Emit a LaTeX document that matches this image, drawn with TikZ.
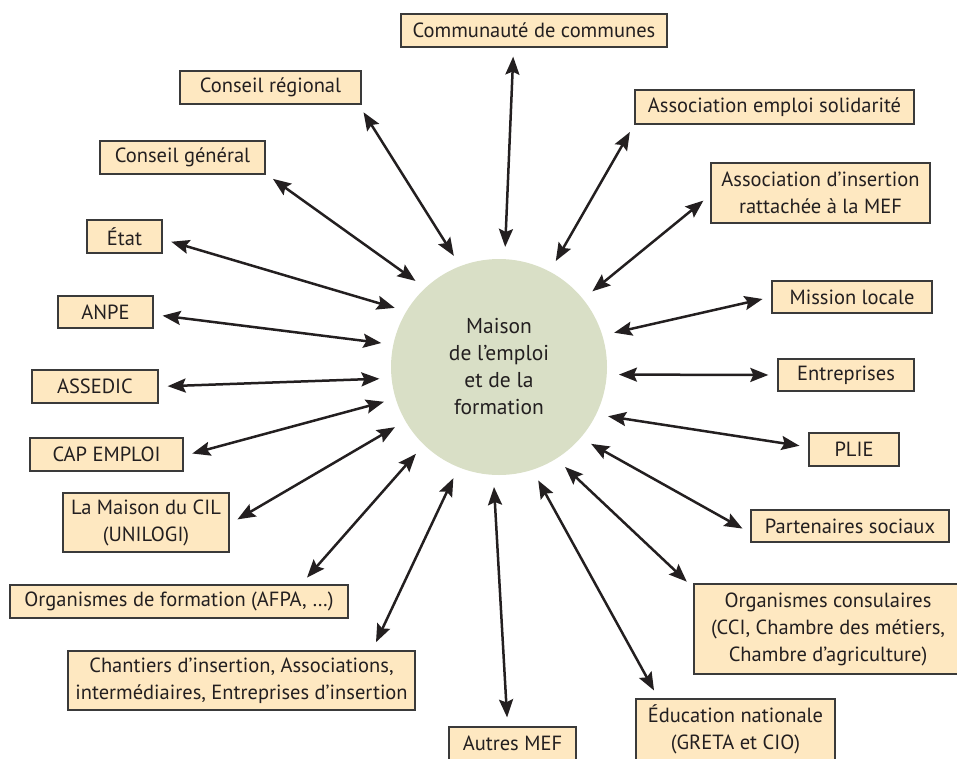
\documentclass[tikz,border=0pt]{standalone}
\usepackage{fontspec}
\setmainfont{PT Sans}
\usetikzlibrary{arrows.meta}
\definecolor{ink}{HTML}{231F20}
\definecolor{peach}{HTML}{FEE8C1}
\definecolor{sage}{HTML}{D9DFC6}
\definecolor{frame}{HTML}{3A3A3A}

\begin{document}
\begin{tikzpicture}[x=1pt,y=-1pt,
  box/.style={draw=frame,line width=1.3pt,fill=peach,text=ink,align=center,inner sep=2pt,font=\fontsize{20.5}{27}\selectfont},
  hub/.style={circle,fill=sage,text=ink,align=center,minimum size=216pt,inner sep=0pt,font=\fontsize{21.5}{27}\selectfont},
  link/.style={<->,>={Stealth[length=18pt,width=14pt,inset=3pt]},line width=2.5pt,draw=ink,shorten <=9pt,shorten >=12pt}]
\useasboundingbox (0,0) rectangle (957,758);
\node[hub] (MEF) at (499,367){Maison\\de l’emploi\\et de la\\formation};
\node[box,minimum width=266pt,minimum height=33pt] (CC) at (534,30.5){Communauté de communes};
\node[box,minimum width=279pt,minimum height=34pt] (AES) at (774.5,107){Association emploi solidarité};
\node[box,minimum width=219pt,minimum height=60pt] (AIR) at (820.5,193){Association d’insertion\\rattachée à la MEF};
\node[box,minimum width=160pt,minimum height=32pt] (ML) at (852,297){Mission locale};
\node[box,minimum width=136pt,minimum height=32pt] (ENT) at (846,375){Entreprises};
\node[box,minimum width=90pt,minimum height=33pt] (PLIE) at (854,449.5){PLIE};
\node[box,minimum width=198pt,minimum height=32pt] (PS) at (850,526){Partenaires sociaux};
\node[box,minimum width=268pt,minimum height=90pt] (OC) at (828,629){Organismes consulaires\\(CCI, Chambre des métiers,\\Chambre d’agriculture)};
\node[box,minimum width=199pt,minimum height=61pt] (EN) at (735.5,729.5){Éducation nationale\\(GRETA et CIO)};
\node[box,minimum width=127pt,minimum height=33pt] (AMEF) at (512.5,743.5){Autres MEF};
\node[box,minimum width=347pt,minimum height=59pt] (CH) at (241.5,680.5){Chantiers d’insertion, Associations,\\intermédiaires, Entreprises d’insertion};
\node[box,minimum width=338pt,minimum height=33pt] (OF) at (179,601.5){Organismes de formation (AFPA, …)};
\node[box,minimum width=166pt,minimum height=59pt] (CIL) at (146,522.5){La Maison du CIL\\(UNILOGI)};
\node[box,minimum width=153pt,minimum height=33pt] (CAP) at (106.5,454.5){CAP EMPLOI};
\node[box,minimum width=126pt,minimum height=33pt] (ASS) at (95,386.5){ASSEDIC};
\node[box,minimum width=95pt,minimum height=32pt] (ANPE) at (105.5,312){ANPE};
\node[box,minimum width=75pt,minimum height=33pt] (ETAT) at (124.5,236.5){État};
\node[box,minimum width=165pt,minimum height=33pt] (CG) at (182.5,157.5){Conseil général};
\node[box,minimum width=181pt,minimum height=33pt] (CR) at (270.5,87.5){Conseil régional};
\draw[link] (CC.220) -- (MEF.87);
\draw[link] (AES.187.7) -- (MEF.62);
\draw[link] (AIR.181) -- (MEF.39);
\draw[link] (ML.180) -- (MEF.17);
\draw[link] (ENT.180) -- (MEF.356);
\draw[link] (PLIE.177.8) -- (MEF.334);
\draw[link] (PS.184.4) -- (MEF.319);
\draw[link] (OC.163.5) -- (MEF.302);
\draw[link] (EN.158.4) -- (MEF.288);
\draw[link] (AMEF.106) -- (MEF.267);
\draw[link] (CH.13) -- (MEF.248);
\draw[link] (OF.8.6) -- (MEF.226);
\draw[link] (CIL.-1) -- (MEF.210);
\draw[link] (CAP.-1) -- (MEF.197);
\draw[link] (ASS.0) -- (MEF.186);
\draw[link] (ANPE.-3.6) -- (MEF.168);
\draw[link] (ETAT.-4.6) -- (MEF.149);
\draw[link] (CG.-11) -- (MEF.133);
\draw[link] (CR.-11.5) -- (MEF.111);
\end{tikzpicture}
\end{document}
